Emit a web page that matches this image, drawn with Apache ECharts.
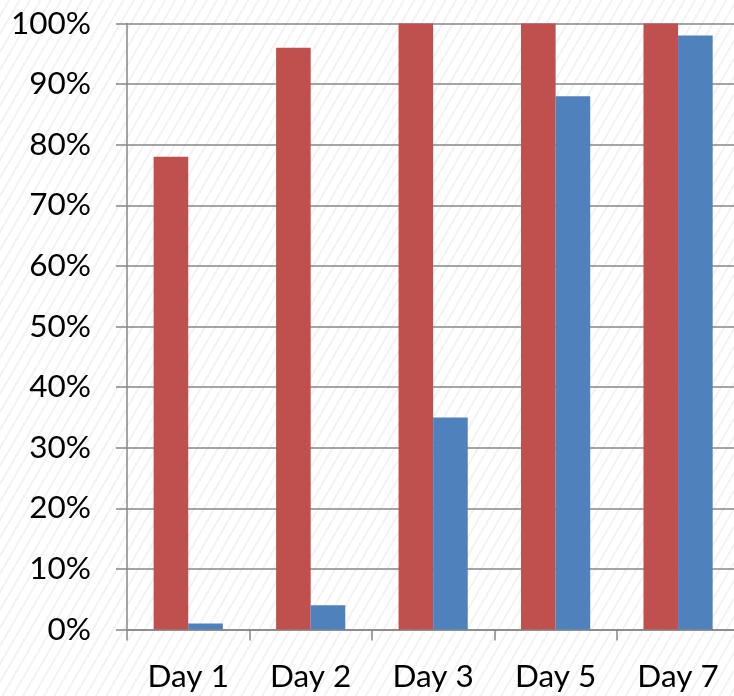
<!DOCTYPE html>
<html>
<head>
<meta charset="utf-8">
<script src="https://cdn.jsdelivr.net/npm/echarts@6/dist/echarts.min.js"></script>
<style>
  html, body { margin: 0; padding: 0; }
  body {
    width: 734px; height: 696px; overflow: hidden;
    background: repeating-linear-gradient(120deg, #ffffff 0px, #ffffff 7px, #f3f3f3 7px, #f3f3f3 9px);
  }
  #chart { width: 740px; height: 696px; }
</style>
</head>
<body>
<div id="chart"></div>
<script>
const categories = ['Day 1', 'Day 2', 'Day 3', 'Day 5', 'Day 7'];
const redValues = [78, 96, 100, 100, 100];
const blueValues = [1, 4, 35, 88, 98];

const axisGray = '#878787';
const labelFont = { fontFamily: 'Lato', fontSize: 31.5, color: '#000' };

const chart = echarts.init(document.getElementById('chart'), null, { renderer: 'canvas' });
chart.setOption({
  backgroundColor: 'transparent',
  animation: false,
  grid: { left: 127, right: 0.7, top: 23.5, bottom: 66.5, containLabel: false },
  xAxis: {
    type: 'category',
    data: categories,
    boundaryGap: true,
    axisLine: { show: true, lineStyle: { color: axisGray, width: 1.5 } },
    axisTick: { show: true, length: 11, lineStyle: { color: axisGray, width: 1.5 } },
    axisLabel: Object.assign({ margin: 31 }, labelFont),
    splitLine: { show: false }
  },
  yAxis: {
    type: 'value',
    min: 0, max: 100, interval: 10,
    axisLine: { show: true, lineStyle: { color: axisGray, width: 1.5 } },
    axisTick: { show: true, length: 11, lineStyle: { color: axisGray, width: 1.5 } },
    axisLabel: Object.assign({ margin: 36, formatter: '{value}%' }, labelFont),
    splitLine: { show: true, lineStyle: { color: axisGray, width: 1.5 } }
  },
  series: [
    {
      type: 'bar', data: redValues,
      itemStyle: { color: '#C0504D' },
      barGap: '0%', barCategoryGap: '43.5%'
    },
    {
      type: 'bar', data: blueValues,
      itemStyle: { color: '#4F81BD' },
      barGap: '0%', barCategoryGap: '43.5%'
    }
  ]
});
</script>
</body>
</html>
